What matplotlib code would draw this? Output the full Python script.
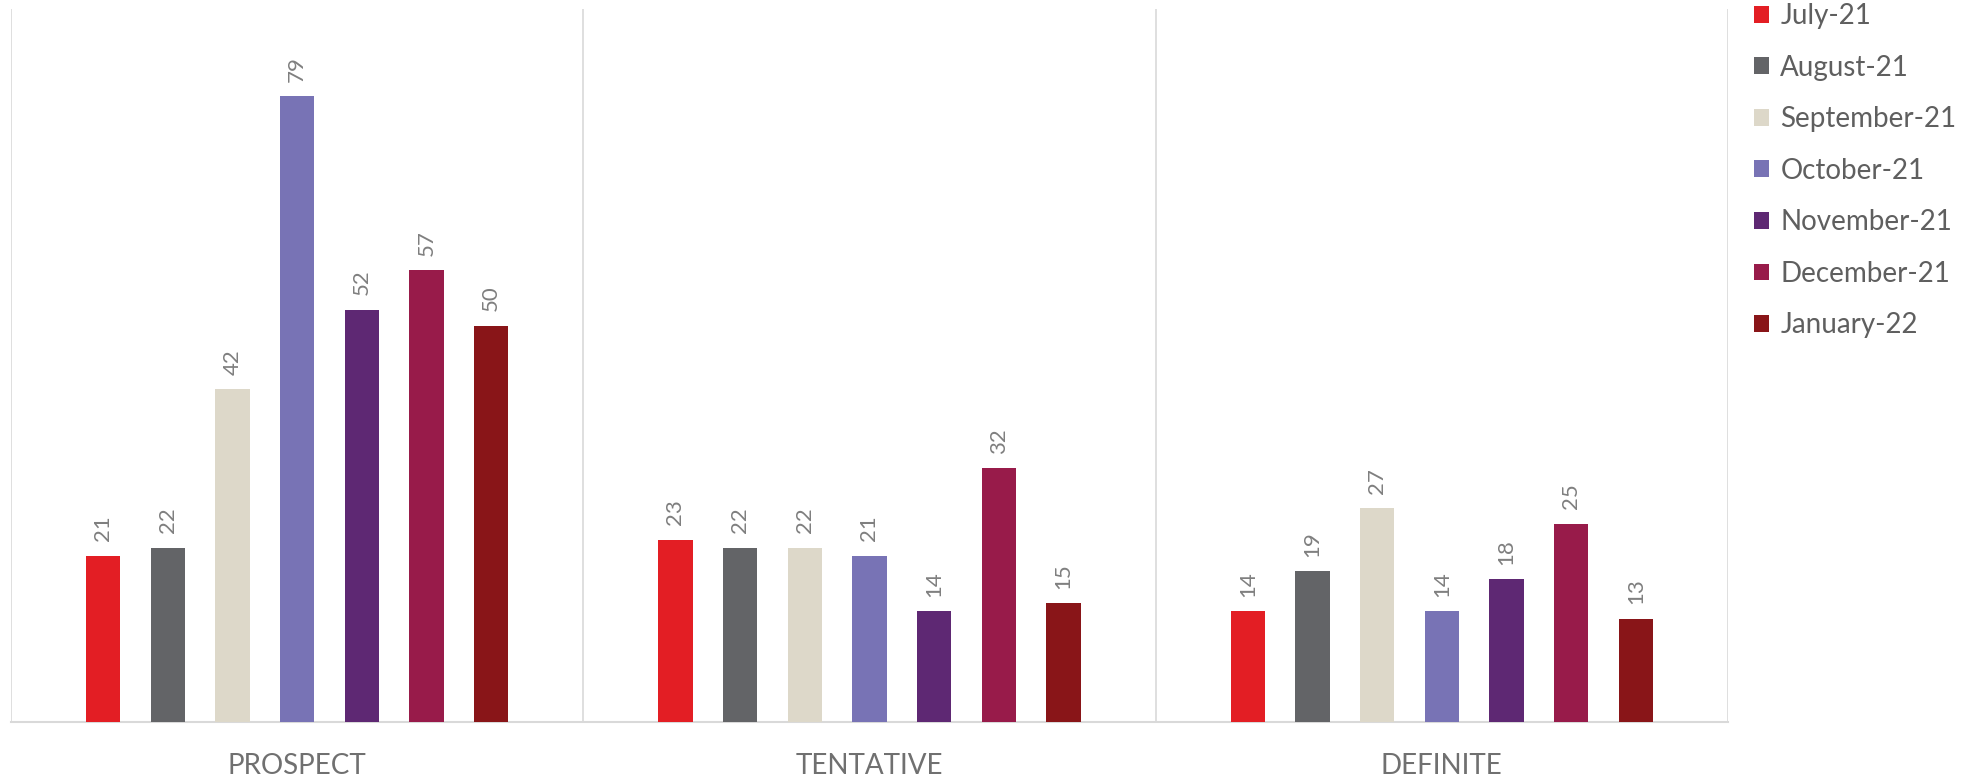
import matplotlib
matplotlib.use("Agg")
import matplotlib.pyplot as plt
import numpy as np
from matplotlib.patches import Patch

categories = ["PROSPECT", "TENTATIVE", "DEFINITE"]
series_names = ["July-21", "August-21", "September-21", "October-21",
                "November-21", "December-21", "January-22"]
july = [21, 23, 14]
august = [22, 22, 19]
september = [42, 22, 27]
october = [79, 21, 14]
november = [52, 14, 18]
december = [57, 32, 25]
january = [50, 15, 13]
series_values = [july, august, september, october, november, december, january]
colors = ["#E31E24", "#636467", "#DDD8C9", "#7873B5", "#5E2873", "#981B4A", "#891518"]

plt.rcParams['font.family'] = ['Lato', 'DejaVu Sans']

fig = plt.figure(figsize=(19.78, 7.78), dpi=100)
ax = fig.add_axes([11/1978, 1 - 722/778, (1728 - 11)/1978, (722 - 9)/778])

x = np.arange(len(categories))
step = 0.113
width = 0.0595
n = len(series_values)
for i, (vals, c) in enumerate(zip(series_values, colors)):
    pos = x + (i - (n - 1) / 2) * step
    bars = ax.bar(pos, vals, width=width, color=c, zorder=3)
    for b, v in zip(bars, vals):
        ax.annotate(str(v), (b.get_x() + b.get_width() / 2, v),
                    xytext=(0, 10.5), textcoords="offset points",
                    rotation=90, ha="center", va="bottom",
                    fontsize=16, color="#7F7F7F")

ax.set_xlim(-0.5, len(categories) - 0.5)
ax.set_ylim(0, 90)
ax.set_yticks([])
ax.set_xticks(x)
ax.set_xticklabels(categories, fontsize=20, color="#707070")
ax.tick_params(axis="x", length=0, pad=22)
for s in ["top", "right", "left"]:
    ax.spines[s].set_visible(False)
ax.spines["bottom"].set_color("#D9D9D9")
ax.spines["bottom"].set_linewidth(1.5)
for b in np.arange(-0.5, len(categories), 1.0):
    ax.axvline(b, color="#D9D9D9", linewidth=1.2, zorder=1)

handles = [Patch(facecolor=c, edgecolor="none") for c in colors]
leg = fig.legend(handles, series_names, loc="upper left",
                 bbox_to_anchor=(1729/1978, 1.0 + 22/778), frameon=False,
                 fontsize=20, handlelength=0.55, handleheight=0.55,
                 handletextpad=0.4, labelspacing=0.92)
for t in leg.get_texts():
    t.set_color("#5F5F5F")

fig.savefig("out.png", dpi=100)
